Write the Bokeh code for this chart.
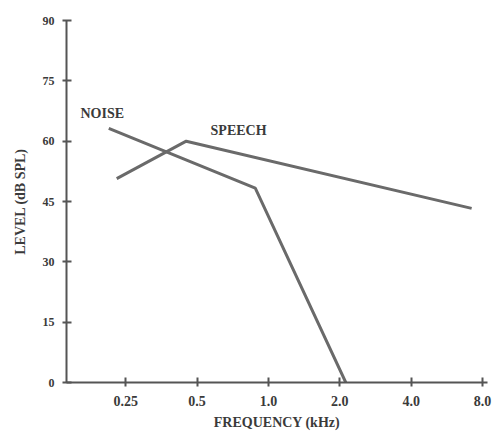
from bokeh.plotting import figure
from bokeh.models import FixedTicker, Label
from bokeh.embed import file_html
from bokeh.resources import INLINE

# data (kHz, dB SPL)
noise_freq = [0.212, 0.88, 2.12]
noise_level = [63.2, 48.3, 0.0]
speech_freq = [0.229, 0.45, 7.2]
speech_level = [50.7, 60.0, 43.3]

x_ticks = [0.25, 0.5, 1.0, 2.0, 4.0, 8.0]
x_tick_labels = ["0.25", "0.5", "1.0", "2.0", "4.0", "8.0"]
y_ticks = [0, 15, 30, 45, 60, 75, 90]

FONT = "Liberation Serif"
INK = "#555555"
TXT = "#3a3a3a"

p = figure(width=497, height=437, x_axis_type="log",
           x_range=(0.1406, 8.4), y_range=(0, 90),
           output_backend="svg", toolbar_location=None,
           min_border_left=66, min_border_right=10,
           min_border_top=20, min_border_bottom=55)
p.outline_line_color = None
p.xgrid.visible = False
p.ygrid.visible = False
p.background_fill_color = "white"
p.border_fill_color = "white"

p.line(noise_freq, noise_level, line_color="#6a6a6a", line_width=3)
p.line(speech_freq, speech_level, line_color="#6a6a6a", line_width=3)

p.xaxis.ticker = FixedTicker(ticks=x_ticks)
p.xaxis.major_label_overrides = {t: l for t, l in zip(x_ticks, x_tick_labels)}
p.yaxis.ticker = FixedTicker(ticks=y_ticks)

for ax in (p.xaxis[0], p.yaxis[0]):
    ax.axis_line_color = INK
    ax.axis_line_width = 2
    ax.major_tick_line_color = INK
    ax.major_tick_line_width = 2
    ax.major_tick_in = 5
    ax.major_tick_out = 4
    ax.minor_tick_line_color = None
    ax.major_label_text_font = FONT
    ax.major_label_text_font_style = "bold"
    ax.major_label_text_color = TXT
    ax.axis_label_text_font = FONT
    ax.axis_label_text_font_style = "bold"
    ax.axis_label_text_font_size = "14px"
    ax.axis_label_text_color = TXT

p.xaxis.major_label_text_font_size = "14px"
p.yaxis.major_label_text_font_size = "12px"
p.xaxis.axis_label = "FREQUENCY (kHz)"
p.yaxis.axis_label = "LEVEL (dB SPL)"
p.xaxis.major_label_standoff = 9
p.yaxis.major_label_standoff = 8
p.xaxis.axis_label_standoff = 6
p.yaxis.axis_label_standoff = 12

p.add_layout(Label(x=0.161, y=66.9, text="NOISE", text_font=FONT,
                   text_font_style="bold", text_font_size="14px",
                   text_color=TXT, text_baseline="middle"))
p.add_layout(Label(x=0.57, y=62.7, text="SPEECH", text_font=FONT,
                   text_font_style="bold", text_font_size="14px",
                   text_color=TXT, text_baseline="middle"))

open("out.html", "w").write(file_html(p, INLINE))
